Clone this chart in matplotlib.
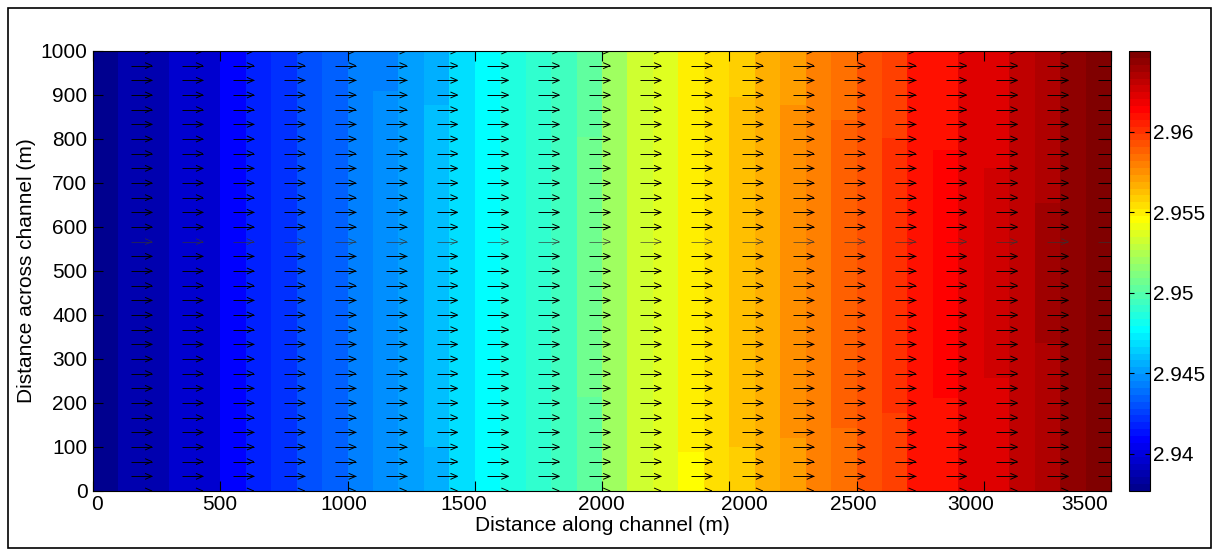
import numpy as np
import matplotlib
matplotlib.use("Agg")
import matplotlib.pyplot as plt
import matplotlib.transforms as mtrans
from matplotlib.colors import ListedColormap, Normalize
from matplotlib.collections import LineCollection
from matplotlib.patches import Rectangle

# ---------------- data ----------------
x_edges = [0, 100, 200, 300, 400, 500, 600, 700, 800, 900, 1000, 1100, 1200, 1300,
           1400, 1500, 1600, 1700, 1800, 1900, 2000, 2100, 2200, 2300, 2400, 2500,
           2600, 2700, 2800, 2900, 3000, 3100, 3200, 3300, 3400, 3500, 3600, 3700,
           3800, 3900, 4000]
# value of each 100 m column (channel centre)
col_values = [2.93791, 2.93877, 2.93877, 2.93962, 2.93962, 2.94090, 2.94175, 2.94218,
              2.94303, 2.94346, 2.94431, 2.94474, 2.94516, 2.94602, 2.94687, 2.94772,
              2.94858, 2.94900, 2.94943, 2.95071, 2.95199, 2.95327, 2.95370, 2.95498,
              2.95540, 2.95626, 2.95668, 2.95754, 2.95796, 2.95881, 2.95924, 2.96009,
              2.96095, 2.96137, 2.96223, 2.96265, 2.96308, 2.96393, 2.96436, 2.96479]
# columns whose value near the walls is lower than in the centre band [lo, hi]
band_cols = [11, 13, 19, 23, 25, 27, 29, 31, 33, 35, 37]
band_lo = [0, 100, 214, 89, 100, 120, 143, 177, 211, 257, 336]
band_hi = [909, 877, 805, 1000, 895, 877, 843, 802, 775, 734, 654]
wall_values = [2.94431, 2.94559, 2.95028, 2.95455, 2.95583, 2.95711, 2.95839,
               2.95967, 2.96095, 2.96223, 2.96350]

# velocity vectors (uniform flow along the channel)
quiver_x = [150, 350, 550, 750, 950, 1150, 1350, 1550, 1750, 1950, 2150, 2350,
            2550, 2750, 2950, 3150, 3350, 3550, 3750, 3950]
quiver_y = [0.0, 33.3, 66.7, 100.0, 133.3, 166.7, 200.0, 233.3, 266.7, 300.0,
            333.3, 366.7, 400.0, 433.3, 466.7, 500.0, 533.3, 566.7, 600.0, 633.3,
            666.7, 700.0, 733.3, 766.7, 800.0, 833.3, 866.7, 900.0, 933.3, 966.7, 1000.0]
arrow_u = 82.0
arrow_v = 0.0

xtick_pos = [0, 500, 1000, 1500, 2000, 2500, 3000, 3500, 4000]
xtick_labels = ["0", "500", "1000", "1500", "2000", "2000", "2500", "3000", "3500"]
ytick_pos = [0, 100, 200, 300, 400, 500, 600, 700, 800, 900, 1000]
ytick_labels = ["0", "100", "200", "300", "400", "500", "600", "700", "800", "900", "1000"]
cbar_ticks = [2.94, 2.945, 2.95, 2.955, 2.96]
cbar_labels = ["2.94", "2.945", "2.95", "2.955", "2.96"]
cmin, cmax = 2.9377, 2.9650

xlabel = "Distance along channel (m)"
ylabel = "Distance across channel (m)"

# ---------------- style ----------------
plt.rcParams["font.family"] = ["Liberation Sans", "DejaVu Sans"]
FS = 15

# MATLAB jet(64)
idx = np.arange(64)
r = np.interp(idx, [0, 23, 39, 55, 63], [0, 0, 1, 1, 0.5])
g = np.interp(idx, [0, 7, 23, 39, 55, 63], [0, 0, 1, 1, 0, 0])
b = np.interp(idx, [0, 7, 23, 39, 63], [0.5625, 1, 1, 0, 0])
jet64 = ListedColormap(np.column_stack([r, g, b]))
norm = Normalize(cmin, cmax)

W, H = 1219, 550
fig = plt.figure(figsize=(W / 100, H / 100), dpi=100)
ax = fig.add_axes([93 / W, 1 - 491 / H, 1018 / W, 440 / H])
cax = fig.add_axes([1129 / W, 1 - 491 / H, 21 / W, 440 / H])

# build field grid
y_edges = sorted(set([0.0, 1000.0] + [float(v) for v in band_lo + band_hi]))
y_cent = [(y_edges[i] + y_edges[i + 1]) / 2 for i in range(len(y_edges) - 1)]
C = np.tile(np.array(col_values), (len(y_cent), 1))
for c, lo, hi, wv in zip(band_cols, band_lo, band_hi, wall_values):
    for j, yc in enumerate(y_cent):
        if yc < lo or yc > hi:
            C[j, c] = wv

mesh = ax.pcolormesh(x_edges, y_edges, C, cmap=jet64, norm=norm, shading="flat")

ax.set_xlim(0, 4000)
ax.set_ylim(0, 1000)

# arrows (MATLAB-like open heads)
fig.canvas.draw()
sx = ax.bbox.width / 4000.0
sy = ax.bbox.height / 1000.0
hl = 7.0 / sx
hw = 3.0 / sy
segs_main, segs_thin = [], []
for jy, yv in enumerate(quiver_y):
    for xv in quiver_x:
        x2, y2 = xv + arrow_u, yv + arrow_v
        s = [[(xv, yv), (x2, y2)], [(x2, y2), (x2 - hl, y2 + hw)], [(x2, y2), (x2 - hl, y2 - hw)]]
        (segs_thin if jy == 17 else segs_main).extend(s)
ax.add_collection(LineCollection(segs_main, colors="black", linewidths=0.7, zorder=3))
ax.add_collection(LineCollection(segs_thin, colors="#333333", linewidths=0.45, zorder=3))

# axes styling
ax.set_xticks(xtick_pos)
ax.set_xticklabels(xtick_labels)
ax.set_yticks(ytick_pos)
ax.set_yticklabels(ytick_labels)
ax.tick_params(which="both", direction="in", length=7.2, width=0.8, top=True, right=True,
               labelsize=FS, pad=3)
ax.tick_params(axis="y", pad=4)
for sp in ax.spines.values():
    sp.set_linewidth(0.8)
ax.set_xlabel(xlabel, fontsize=FS, labelpad=1)
ax.set_ylabel(ylabel, fontsize=FS)
ax.yaxis.set_label_coords((36 - 93) / 1018, 0.5)

shift_px = [4, -1, -4, -11, -1, 15, -3, -13, -26]
for lab, dx in zip(ax.get_xticklabels(), shift_px):
    lab.set_transform(lab.get_transform() + mtrans.ScaledTranslation(dx / 100.0, 0, fig.dpi_scale_trans))

# colorbar
cb = fig.colorbar(mesh, cax=cax, ticks=cbar_ticks)
cb.set_ticklabels(cbar_labels)
cax.tick_params(direction="in", length=3.5, width=0.8, left=True, right=True,
                labelleft=False, labelright=True, labelsize=FS, pad=2)
cb.outline.set_linewidth(0.8)

# outer frame
fig.add_artist(Rectangle((8 / W, 1 - 548 / H), (1211 - 8) / W, (548 - 8) / H,
                         transform=fig.transFigure, fill=False, edgecolor="black", linewidth=1.2))

fig.savefig("out.png", dpi=100)
